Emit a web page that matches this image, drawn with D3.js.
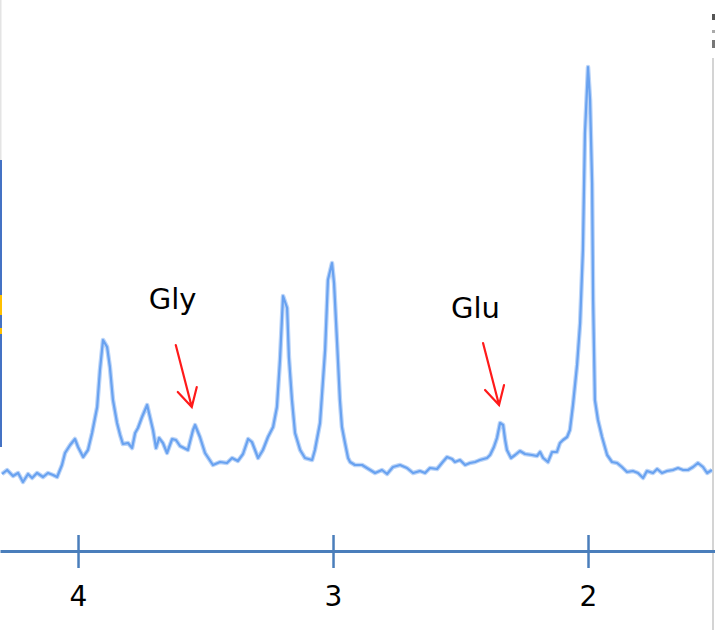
<!DOCTYPE html>
<html>
<head>
<meta charset="utf-8">
<script src="https://cdn.jsdelivr.net/npm/d3@7"></script>
<style>
  body { margin: 0; background: #fff; }
  svg { display: block; }
</style>
</head>
<body>
<div id="chart"></div>
<script>
// chemical shift (ppm) of each sample
var ppm = [4.298, 4.278, 4.255, 4.235, 4.216, 4.196, 4.180, 4.161, 4.137, 4.118, 4.098, 4.082,
  4.063, 4.051, 4.031, 4.012, 4.000, 3.980, 3.961, 3.945, 3.925, 3.914, 3.902, 3.886, 3.875,
  3.863, 3.847, 3.835, 3.824, 3.804, 3.788, 3.776, 3.765, 3.749, 3.729, 3.718, 3.706, 3.694,
  3.682, 3.667, 3.651, 3.631, 3.616, 3.600, 3.569, 3.549, 3.541, 3.522, 3.502, 3.471, 3.443,
  3.416, 3.396, 3.373, 3.353, 3.333, 3.318, 3.294, 3.275, 3.255, 3.235, 3.220, 3.208, 3.196,
  3.180, 3.173, 3.161, 3.149, 3.129, 3.110, 3.082, 3.071, 3.051, 3.031, 3.020, 3.004, 2.996,
  2.984, 2.973, 2.965, 2.953, 2.941, 2.933, 2.914, 2.886, 2.867, 2.835, 2.808, 2.788, 2.765,
  2.737, 2.710, 2.686, 2.659, 2.639, 2.620, 2.592, 2.573, 2.553, 2.533, 2.522, 2.502, 2.482,
  2.463, 2.443, 2.424, 2.396, 2.384, 2.369, 2.357, 2.345, 2.333, 2.325, 2.318, 2.302, 2.286,
  2.267, 2.247, 2.220, 2.200, 2.188, 2.176, 2.157, 2.141, 2.122, 2.110, 2.098, 2.082, 2.071,
  2.059, 2.043, 2.031, 2.020, 2.012, 2.000, 1.992, 1.984, 1.980, 1.973, 1.961, 1.945, 1.925,
  1.906, 1.886, 1.867, 1.847, 1.824, 1.804, 1.784, 1.769, 1.745, 1.729, 1.710, 1.690, 1.667,
  1.647, 1.627, 1.608, 1.588, 1.569, 1.549, 1.533, 1.514];

// signal intensity (arbitrary units)
var intensity = [0.6, 1.0, 0.4, 0.7, -0.2, 0.6, 0.2, 0.7, 0.3, 0.7, 0.5, 0.3,
  1.5, 2.7, 3.5, 4.1, 3.3, 2.3, 3.0, 4.7, 7.3, 11.0, 14.0, 13.3, 11.3,
  8.0, 5.7, 4.5, 3.6, 3.7, 3.2, 4.7, 5.2, 6.3, 7.5, 6.3, 5.0, 3.2,
  4.2, 3.7, 2.7, 4.1, 4.0, 3.4, 3.0, 5.0, 5.5, 4.3, 2.7, 1.5, 1.8,
  1.7, 2.2, 1.9, 2.6, 4.1, 3.8, 2.2, 3.0, 4.3, 5.3, 7.3, 12.0, 18.4,
  17.2, 12.3, 8.0, 4.7, 3.0, 2.2, 2.0, 3.0, 5.7, 13.0, 20.0, 21.7, 19.7,
  13.7, 8.0, 5.3, 3.7, 2.2, 1.8, 1.5, 1.5, 1.2, 0.7, 1.0, 0.6, 1.3,
  1.5, 1.2, 0.7, 0.9, 0.7, 1.2, 1.1, 1.7, 2.3, 2.1, 1.8, 2.0, 1.5,
  1.7, 1.8, 2.0, 2.2, 2.5, 3.3, 4.2, 5.7, 5.5, 4.0, 3.0, 2.2, 2.5,
  2.9, 2.6, 2.5, 2.4, 2.8, 2.2, 1.8, 2.8, 2.8, 3.7, 4.0, 4.3, 5.0,
  7.5, 11.5, 15.7, 23.0, 34.7, 41.3, 38.0, 29.7, 18.0, 8.0, 6.0, 4.3, 2.5,
  1.8, 1.7, 1.3, 0.8, 0.9, 0.7, 0.2, 0.9, 0.7, 1.1, 0.7, 0.9, 1.0,
  1.2, 1.0, 1.0, 1.3, 1.7, 1.3, 0.7, 1.0];

var tickValues = [4, 3, 2];

// labelled metabolites and the peak each arrow points at
var labels = ['Gly', 'Glu'];
var labelPpm = [3.55, 2.345];
var labelPeak = [5.5, 5.7];

var width = 715, height = 630;

var svg = d3.select('#chart').append('svg')
    .attr('width', width)
    .attr('height', height);

var x = d3.scaleLinear().domain([4.306, 1.502]).range([0, width]);
var y = d3.scaleLinear().domain([0, 42]).range([480, 60]);

var data = ppm.map(function(p, i) { return [p, intensity[i]]; });

// window edges from the original screenshot
svg.append('rect').attr('x', 0).attr('y', 0).attr('width', 1.5).attr('height', 160).attr('fill', '#e4e4e4');
svg.append('rect').attr('x', 0).attr('y', 160).attr('width', 2).attr('height', 287).attr('fill', '#4472c4');
svg.append('rect').attr('x', 0).attr('y', 295).attr('width', 2).attr('height', 20).attr('fill', '#ffc000');
svg.append('rect').attr('x', 0).attr('y', 328).attr('width', 2).attr('height', 6).attr('fill', '#ffc000');
svg.append('rect').attr('x', 712).attr('y', 58).attr('width', 2).attr('height', 572).attr('fill', '#d4d4d4');
svg.append('rect').attr('x', 712).attr('y', 14).attr('width', 3).attr('height', 6).attr('fill', '#555');
svg.append('rect').attr('x', 712).attr('y', 30).attr('width', 3).attr('height', 3).attr('fill', '#aaa');
svg.append('rect').attr('x', 712).attr('y', 40).attr('width', 3).attr('height', 8).attr('fill', '#777');

var line = d3.line()
    .x(function(d) { return x(d[0]); })
    .y(function(d) { return y(d[1]); });

// soft halo under the trace
svg.append('path').datum(data)
    .attr('d', line)
    .attr('fill', 'none')
    .attr('stroke', '#bcd5f8')
    .attr('stroke-width', 4.5)
    .attr('stroke-linejoin', 'round');

svg.append('path').datum(data)
    .attr('d', line)
    .attr('fill', 'none')
    .attr('stroke', '#69a2f0')
    .attr('stroke-width', 2.2)
    .attr('stroke-linejoin', 'round');

// ppm axis
var axis = svg.append('g')
    .attr('transform', 'translate(0,551)')
    .call(d3.axisBottom(x).tickValues(tickValues).tickSizeOuter(0).tickFormat(d3.format('d')));

axis.select('.domain').attr('stroke', '#4a7ebb').attr('stroke-width', 3);
axis.selectAll('.tick line')
    .attr('stroke', '#4a7ebb')
    .attr('stroke-width', 2.5)
    .attr('y1', -16)
    .attr('y2', 17);
axis.selectAll('.tick text')
    .attr('y', 35)
    .attr('dy', '0.71em')
    .attr('fill', '#000')
    .style('font-family', 'DejaVu Sans, sans-serif')
    .style('font-size', '28px');

// annotations with red arrows
var ann = svg.append('g').selectAll('g').data(labels).enter().append('g');

ann.append('text')
    .attr('x', function(d, i) { return x(labelPpm[i]) - 44 - i * 5; })
    .attr('y', function(d, i) { return y(labelPeak[i]) - 116 + i * 11; })
    .text(function(d) { return d; })
    .style('font-family', 'DejaVu Sans, sans-serif')
    .style('font-size', '29px')
    .attr('fill', '#000');

ann.append('path')
    .attr('d', function(d, i) {
      var tx = x(labelPpm[i]) - 1, ty = y(labelPeak[i]) - 18;
      var sx = tx - 16, sy = ty - 62;
      return 'M' + sx + ',' + sy + 'L' + tx + ',' + ty +
             'M' + (tx - 14) + ',' + (ty - 15) + 'L' + tx + ',' + ty + 'L' + (tx + 5) + ',' + (ty - 20);
    })
    .attr('fill', 'none')
    .attr('stroke', '#ff1a1a')
    .attr('stroke-width', 2.2)
    .attr('stroke-linecap', 'round');
</script>
</body>
</html>
